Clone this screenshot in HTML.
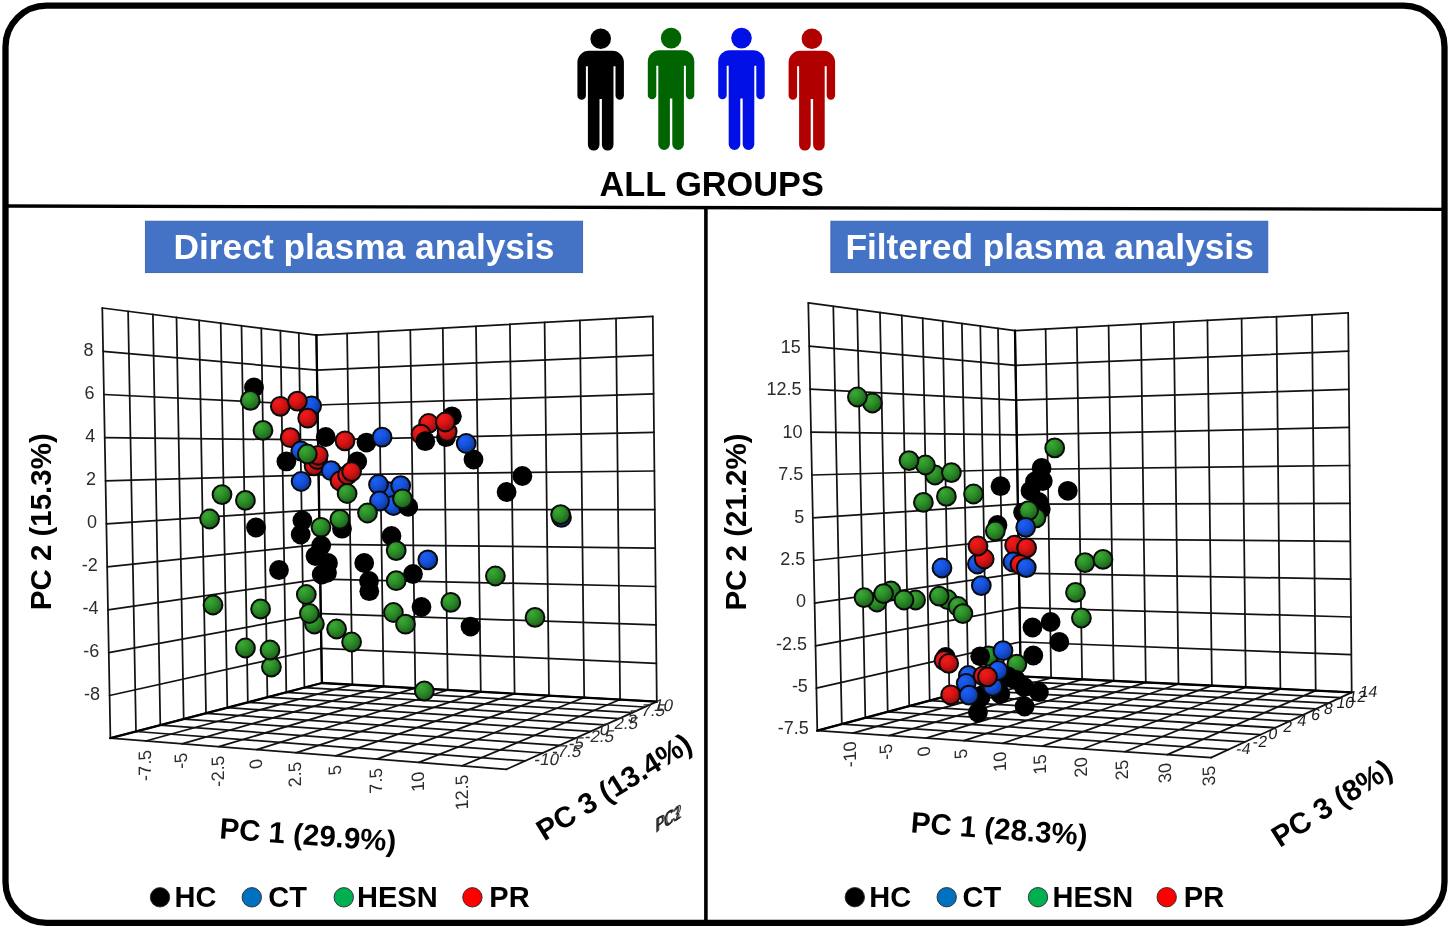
<!DOCTYPE html>
<html><head><meta charset="utf-8"><title>PCA plots</title>
<style>html,body{margin:0;padding:0;background:#fff}svg{display:block}text{font-family:"Liberation Sans", Arial, Helvetica, sans-serif}</style>
</head><body>
<svg width="1450" height="929" viewBox="0 0 1450 929">
<defs>
<radialGradient id="gR" cx="0.36" cy="0.32" r="0.75" fx="0.33" fy="0.28"><stop offset="0" stop-color="#f41a1a"/><stop offset="0.45" stop-color="#d81414"/><stop offset="1" stop-color="#8a0c0c"/></radialGradient>
<radialGradient id="gG" cx="0.36" cy="0.32" r="0.75" fx="0.33" fy="0.28"><stop offset="0" stop-color="#3aaa32"/><stop offset="0.45" stop-color="#2c8e28"/><stop offset="1" stop-color="#175a17"/></radialGradient>
<radialGradient id="gB" cx="0.36" cy="0.32" r="0.75" fx="0.33" fy="0.28"><stop offset="0" stop-color="#1c60f6"/><stop offset="0.45" stop-color="#1552dc"/><stop offset="1" stop-color="#0b3290"/></radialGradient>
</defs>
<rect width="1450" height="929" fill="#fff"/>
<circle cx="600.7" cy="38.7" r="10.3" fill="#000000"/>
<path d="M577.4 62.3A11.5 11.5 0 0 1 588.9 50.8H612.4A11.5 11.5 0 0 1 623.9 62.3V95.6A4.2 4.2 0 0 1 615.5 95.6V66.3H613.5V144.8A5.8 5.8 0 0 1 601.9 144.8V99H599.5V144.8A5.8 5.8 0 0 1 587.9 144.8V66.3H585.9V95.6A4.2 4.2 0 0 1 577.4 95.6Z" fill="#000000"/>
<circle cx="671.1" cy="38.1" r="10.3" fill="#006400"/>
<path d="M647.8 61.7A11.5 11.5 0 0 1 659.3 50.2H682.8A11.5 11.5 0 0 1 694.3 61.7V95A4.2 4.2 0 0 1 685.9 95V65.7H683.9V144.2A5.8 5.8 0 0 1 672.3 144.2V98.4H669.9V144.2A5.8 5.8 0 0 1 658.3 144.2V65.7H656.3V95A4.2 4.2 0 0 1 647.8 95Z" fill="#006400"/>
<circle cx="741.5" cy="38.1" r="10.3" fill="#0010e6"/>
<path d="M718.2 61.7A11.5 11.5 0 0 1 729.7 50.2H753.2A11.5 11.5 0 0 1 764.7 61.7V95A4.2 4.2 0 0 1 756.3 95V65.7H754.3V144.2A5.8 5.8 0 0 1 742.7 144.2V98.4H740.3V144.2A5.8 5.8 0 0 1 728.7 144.2V65.7H726.7V95A4.2 4.2 0 0 1 718.2 95Z" fill="#0010e6"/>
<circle cx="811.9" cy="38.7" r="10.3" fill="#b00000"/>
<path d="M788.6 62.3A11.5 11.5 0 0 1 800.1 50.8H823.6A11.5 11.5 0 0 1 835.1 62.3V95.6A4.2 4.2 0 0 1 826.7 95.6V66.3H824.7V144.8A5.8 5.8 0 0 1 813.1 144.8V99H810.7V144.8A5.8 5.8 0 0 1 799.1 144.8V66.3H797.1V95.6A4.2 4.2 0 0 1 788.6 95.6Z" fill="#b00000"/>
<text x="711.7" y="196.1" font-size="34.3" font-weight="700" text-anchor="middle" fill="#000">ALL GROUPS</text>
<rect x="145.4" y="221.2" width="437.2" height="51.4" fill="#4472c4" stroke="#3762ad" stroke-width="0.9"/>
<text x="364" y="258.5" font-size="35.35" font-weight="700" text-anchor="middle" fill="#fff">Direct plasma analysis</text>
<rect x="830.9" y="221.2" width="436.9" height="51.4" fill="#4472c4" stroke="#3762ad" stroke-width="0.9"/>
<text x="1049.6" y="258.5" font-size="35.35" font-weight="700" text-anchor="middle" fill="#fff">Filtered plasma analysis</text>
<g fill="none" stroke="#121212" stroke-width="1.75" stroke-linecap="round"><path d="M102.3 308L110.4 738.2"/><path d="M102.3 308L316.4 335.2"/><path d="M316.4 335.2L652.8 316.4"/><path d="M110.4 738.2L506.5 769.3"/><path d="M128.1 311.3L136 731.5"/><path d="M103.1 351.3L317 370.1"/><path d="M347.1 333.5L352.4 684.7"/><path d="M317 370.1L653.2 355.1"/><path d="M145.7 741L352.4 684.7"/><path d="M136 731.5L525.1 760.9"/><path d="M152.9 314.4L160.3 725.2"/><path d="M103.9 394.5L317.5 405"/><path d="M378.4 331.7L383.6 686.4"/><path d="M317.5 405L653.6 393.8"/><path d="M181.9 743.8L383.6 686.4"/><path d="M160.3 725.2L542.7 753"/><path d="M176.5 317.4L183.7 719.1"/><path d="M104.7 437.7L318.1 439.9"/><path d="M410.3 329.9L415.3 688.2"/><path d="M318.1 439.9L654 432.4"/><path d="M218.9 746.7L415.3 688.2"/><path d="M183.7 719.1L559.4 745.4"/><path d="M199.1 320.3L206 713.3"/><path d="M105.5 480.8L318.6 474.8"/><path d="M442.8 328.1L447.8 690"/><path d="M318.6 474.8L654.4 471"/><path d="M256.9 749.7L447.8 690"/><path d="M206 713.3L575.4 738.2"/><path d="M220.7 323L227.3 707.7"/><path d="M106.4 523.9L319.2 509.6"/><path d="M476 326.3L480.8 691.8"/><path d="M319.2 509.6L654.8 509.6"/><path d="M295.9 752.8L480.8 691.8"/><path d="M227.3 707.7L590.6 731.4"/><path d="M241.5 325.7L247.8 702.3"/><path d="M107.2 566.8L319.7 544.3"/><path d="M509.9 324.4L514.6 693.7"/><path d="M319.7 544.3L655.2 548.1"/><path d="M335.8 755.9L514.6 693.7"/><path d="M247.8 702.3L605 724.9"/><path d="M261.3 328.2L267.4 697.2"/><path d="M108 609.8L320.2 579.1"/><path d="M544.6 322.4L549 695.6"/><path d="M320.2 579.1L655.6 586.5"/><path d="M376.8 759.1L549 695.6"/><path d="M267.4 697.2L618.8 718.7"/><path d="M280.4 330.6L286.3 692.3"/><path d="M108.8 652.6L320.8 613.7"/><path d="M579.9 320.5L584.2 697.5"/><path d="M320.8 613.7L656 624.9"/><path d="M418.9 762.4L584.2 697.5"/><path d="M286.3 692.3L632.1 712.7"/><path d="M298.8 332.9L304.4 687.6"/><path d="M109.6 695.5L321.3 648.4"/><path d="M616 318.5L620.1 699.5"/><path d="M321.3 648.4L656.4 663.3"/><path d="M462.1 765.8L620.1 699.5"/><path d="M304.4 687.6L644.7 707"/><path d="M316.4 335.2L321.9 683"/><path d="M110.4 738.2L321.9 683"/><path d="M652.8 316.4L656.8 701.6"/><path d="M321.9 683L656.8 701.6"/><path d="M506.5 769.3L656.8 701.6"/></g>
<g fill="none" stroke="#000" stroke-width="2.3" stroke-linecap="round"><path d="M316.4 335.2L321.9 683"/><path d="M321.9 683L656.8 701.6"/><path d="M110.4 738.2L321.9 683"/></g>
<circle cx="254" cy="387.4" r="9.9" fill="#000"/>
<circle cx="250.3" cy="400.4" r="9.4" fill="url(#gG)" stroke="#0a0a0a" stroke-width="2.0"/>
<circle cx="280.3" cy="406.3" r="9.4" fill="url(#gR)" stroke="#0a0a0a" stroke-width="2.0"/>
<circle cx="311.6" cy="405.9" r="9.4" fill="url(#gB)" stroke="#0a0a0a" stroke-width="2.0"/>
<circle cx="297.4" cy="401.1" r="9.4" fill="url(#gR)" stroke="#0a0a0a" stroke-width="2.0"/>
<circle cx="307.7" cy="418.2" r="9.4" fill="url(#gR)" stroke="#0a0a0a" stroke-width="2.0"/>
<circle cx="263" cy="430.4" r="9.4" fill="url(#gG)" stroke="#0a0a0a" stroke-width="2.0"/>
<circle cx="290.3" cy="437.7" r="9.4" fill="url(#gR)" stroke="#0a0a0a" stroke-width="2.0"/>
<circle cx="325.7" cy="437" r="9.9" fill="#000"/>
<circle cx="366.5" cy="442.6" r="9.9" fill="#000"/>
<circle cx="345" cy="440.8" r="9.4" fill="url(#gR)" stroke="#0a0a0a" stroke-width="2.0"/>
<circle cx="382.1" cy="437.2" r="9.4" fill="url(#gB)" stroke="#0a0a0a" stroke-width="2.0"/>
<circle cx="300.8" cy="451" r="9.4" fill="url(#gB)" stroke="#0a0a0a" stroke-width="2.0"/>
<circle cx="314.1" cy="465.9" r="9.4" fill="url(#gR)" stroke="#0a0a0a" stroke-width="2.0"/>
<circle cx="317.6" cy="459.6" r="9.4" fill="url(#gR)" stroke="#0a0a0a" stroke-width="2.0"/>
<circle cx="318.3" cy="455.3" r="9.4" fill="url(#gR)" stroke="#0a0a0a" stroke-width="2.0"/>
<circle cx="307.3" cy="454" r="9.4" fill="url(#gG)" stroke="#0a0a0a" stroke-width="2.0"/>
<circle cx="286.4" cy="461.4" r="9.9" fill="#000"/>
<circle cx="357.2" cy="461.4" r="9.9" fill="#000"/>
<circle cx="331.1" cy="470.7" r="9.4" fill="url(#gB)" stroke="#0a0a0a" stroke-width="2.0"/>
<circle cx="340" cy="481" r="9.4" fill="url(#gR)" stroke="#0a0a0a" stroke-width="2.0"/>
<circle cx="347.6" cy="475" r="9.4" fill="url(#gR)" stroke="#0a0a0a" stroke-width="2.0"/>
<circle cx="351.6" cy="471.6" r="9.4" fill="url(#gR)" stroke="#0a0a0a" stroke-width="2.0"/>
<circle cx="301.1" cy="481.5" r="9.4" fill="url(#gB)" stroke="#0a0a0a" stroke-width="2.0"/>
<circle cx="347.1" cy="493.5" r="9.4" fill="url(#gG)" stroke="#0a0a0a" stroke-width="2.0"/>
<circle cx="388.6" cy="491.7" r="9.4" fill="url(#gB)" stroke="#0a0a0a" stroke-width="2.0"/>
<circle cx="378.5" cy="484.5" r="9.4" fill="url(#gB)" stroke="#0a0a0a" stroke-width="2.0"/>
<circle cx="400.7" cy="485.7" r="9.4" fill="url(#gB)" stroke="#0a0a0a" stroke-width="2.0"/>
<circle cx="393.5" cy="505.5" r="9.4" fill="url(#gB)" stroke="#0a0a0a" stroke-width="2.0"/>
<circle cx="408.2" cy="506.8" r="9.9" fill="#000"/>
<circle cx="379.5" cy="501" r="9.4" fill="url(#gB)" stroke="#0a0a0a" stroke-width="2.0"/>
<circle cx="402.5" cy="498.8" r="9.4" fill="url(#gG)" stroke="#0a0a0a" stroke-width="2.0"/>
<circle cx="367.5" cy="513" r="9.4" fill="url(#gG)" stroke="#0a0a0a" stroke-width="2.0"/>
<circle cx="222" cy="494.6" r="9.4" fill="url(#gG)" stroke="#0a0a0a" stroke-width="2.0"/>
<circle cx="245.4" cy="500.4" r="9.4" fill="url(#gG)" stroke="#0a0a0a" stroke-width="2.0"/>
<circle cx="209.6" cy="519" r="9.4" fill="url(#gG)" stroke="#0a0a0a" stroke-width="2.0"/>
<circle cx="256" cy="527.5" r="9.9" fill="#000"/>
<circle cx="302.4" cy="520.4" r="9.9" fill="#000"/>
<circle cx="300.7" cy="534.6" r="9.9" fill="#000"/>
<circle cx="321" cy="527.3" r="9.4" fill="url(#gG)" stroke="#0a0a0a" stroke-width="2.0"/>
<circle cx="342" cy="528.7" r="9.9" fill="#000"/>
<circle cx="339.8" cy="519.3" r="9.4" fill="url(#gG)" stroke="#0a0a0a" stroke-width="2.0"/>
<circle cx="321.2" cy="545.5" r="9.9" fill="#000"/>
<circle cx="315.5" cy="556.1" r="9.9" fill="#000"/>
<circle cx="328" cy="563" r="9.9" fill="#000"/>
<circle cx="321.7" cy="574.5" r="9.9" fill="#000"/>
<circle cx="327" cy="572.8" r="9.9" fill="#000"/>
<circle cx="391.5" cy="536" r="9.9" fill="#000"/>
<circle cx="396.2" cy="550.6" r="9.4" fill="url(#gG)" stroke="#0a0a0a" stroke-width="2.0"/>
<circle cx="427.8" cy="559.8" r="9.4" fill="url(#gB)" stroke="#0a0a0a" stroke-width="2.0"/>
<circle cx="451.9" cy="416.3" r="9.9" fill="#000"/>
<circle cx="446" cy="437.2" r="9.9" fill="#000"/>
<circle cx="428.6" cy="423.5" r="9.4" fill="url(#gR)" stroke="#0a0a0a" stroke-width="2.0"/>
<circle cx="447.2" cy="431.6" r="9.4" fill="url(#gR)" stroke="#0a0a0a" stroke-width="2.0"/>
<circle cx="445.3" cy="422" r="9.4" fill="url(#gR)" stroke="#0a0a0a" stroke-width="2.0"/>
<circle cx="421" cy="434.2" r="9.4" fill="url(#gR)" stroke="#0a0a0a" stroke-width="2.0"/>
<circle cx="425.3" cy="441.2" r="9.9" fill="#000"/>
<circle cx="473.5" cy="459.5" r="9.9" fill="#000"/>
<circle cx="466.2" cy="443.5" r="9.4" fill="url(#gB)" stroke="#0a0a0a" stroke-width="2.0"/>
<circle cx="522.4" cy="476" r="9.9" fill="#000"/>
<circle cx="506.6" cy="492" r="9.9" fill="#000"/>
<circle cx="561.5" cy="517.4" r="9.4" fill="url(#gB)" stroke="#0a0a0a" stroke-width="2.0"/>
<circle cx="560.6" cy="514.6" r="9.4" fill="url(#gG)" stroke="#0a0a0a" stroke-width="2.0"/>
<circle cx="279" cy="570" r="9.9" fill="#000"/>
<circle cx="364.2" cy="563" r="9.9" fill="#000"/>
<circle cx="369" cy="581" r="9.9" fill="#000"/>
<circle cx="369.3" cy="591.2" r="9.9" fill="#000"/>
<circle cx="413" cy="574" r="9.9" fill="#000"/>
<circle cx="396.2" cy="580.7" r="9.4" fill="url(#gG)" stroke="#0a0a0a" stroke-width="2.0"/>
<circle cx="306.3" cy="594.5" r="9.4" fill="url(#gG)" stroke="#0a0a0a" stroke-width="2.0"/>
<circle cx="314.4" cy="624" r="9.4" fill="url(#gG)" stroke="#0a0a0a" stroke-width="2.0"/>
<circle cx="309.4" cy="613.5" r="9.4" fill="url(#gG)" stroke="#0a0a0a" stroke-width="2.0"/>
<circle cx="336.6" cy="629" r="9.4" fill="url(#gG)" stroke="#0a0a0a" stroke-width="2.0"/>
<circle cx="351.6" cy="642" r="9.4" fill="url(#gG)" stroke="#0a0a0a" stroke-width="2.0"/>
<circle cx="213" cy="605" r="9.4" fill="url(#gG)" stroke="#0a0a0a" stroke-width="2.0"/>
<circle cx="260.6" cy="609" r="9.4" fill="url(#gG)" stroke="#0a0a0a" stroke-width="2.0"/>
<circle cx="245.4" cy="648" r="9.4" fill="url(#gG)" stroke="#0a0a0a" stroke-width="2.0"/>
<circle cx="271.4" cy="667" r="9.4" fill="url(#gG)" stroke="#0a0a0a" stroke-width="2.0"/>
<circle cx="270" cy="650" r="9.4" fill="url(#gG)" stroke="#0a0a0a" stroke-width="2.0"/>
<circle cx="393.4" cy="612.5" r="9.4" fill="url(#gG)" stroke="#0a0a0a" stroke-width="2.0"/>
<circle cx="405.5" cy="624.2" r="9.4" fill="url(#gG)" stroke="#0a0a0a" stroke-width="2.0"/>
<circle cx="421.5" cy="607" r="9.9" fill="#000"/>
<circle cx="450.8" cy="602.4" r="9.4" fill="url(#gG)" stroke="#0a0a0a" stroke-width="2.0"/>
<circle cx="470.5" cy="626.6" r="9.9" fill="#000"/>
<circle cx="424.3" cy="691" r="9.4" fill="url(#gG)" stroke="#0a0a0a" stroke-width="2.0"/>
<circle cx="495.4" cy="576" r="9.4" fill="url(#gG)" stroke="#0a0a0a" stroke-width="2.0"/>
<circle cx="535" cy="617.4" r="9.4" fill="url(#gG)" stroke="#0a0a0a" stroke-width="2.0"/>
<text x="93.6" y="355.5" font-size="18" text-anchor="end" fill="#2c2c2c">8</text>
<text x="94.4" y="398.7" font-size="18" text-anchor="end" fill="#2c2c2c">6</text>
<text x="95.2" y="441.9" font-size="18" text-anchor="end" fill="#2c2c2c">4</text>
<text x="96" y="485" font-size="18" text-anchor="end" fill="#2c2c2c">2</text>
<text x="96.9" y="528.1" font-size="18" text-anchor="end" fill="#2c2c2c">0</text>
<text x="97.7" y="571" font-size="18" text-anchor="end" fill="#2c2c2c">-2</text>
<text x="98.5" y="614" font-size="18" text-anchor="end" fill="#2c2c2c">-4</text>
<text x="99.3" y="656.8" font-size="18" text-anchor="end" fill="#2c2c2c">-6</text>
<text x="100.1" y="699.7" font-size="18" text-anchor="end" fill="#2c2c2c">-8</text>
<text transform="matrix(0 -1 1 -0.12 151.1 749.5)" font-size="18" text-anchor="end" fill="#2c2c2c">-7.5</text>
<text transform="matrix(0 -1 1 -0.12 187.3 752.3)" font-size="18" text-anchor="end" fill="#2c2c2c">-5</text>
<text transform="matrix(0 -1 1 -0.12 224.3 755.2)" font-size="18" text-anchor="end" fill="#2c2c2c">-2.5</text>
<text transform="matrix(0 -1 1 -0.12 262.3 758.2)" font-size="18" text-anchor="end" fill="#2c2c2c">0</text>
<text transform="matrix(0 -1 1 -0.12 301.3 761.3)" font-size="18" text-anchor="end" fill="#2c2c2c">2.5</text>
<text transform="matrix(0 -1 1 -0.12 341.2 764.4)" font-size="18" text-anchor="end" fill="#2c2c2c">5</text>
<text transform="matrix(0 -1 1 -0.12 382.2 767.6)" font-size="18" text-anchor="end" fill="#2c2c2c">7.5</text>
<text transform="matrix(0 -1 1 -0.12 424.3 770.9)" font-size="18" text-anchor="end" fill="#2c2c2c">10</text>
<text transform="matrix(0 -1 1 -0.12 467.5 774.3)" font-size="18" text-anchor="end" fill="#2c2c2c">12.5</text>
<text transform="translate(533.6 764.6) skewX(-11)" font-size="17" text-anchor="start" fill="#2c2c2c">-10</text>
<text transform="translate(551.2 756.7) skewX(-11)" font-size="17" text-anchor="start" fill="#2c2c2c">-7.5</text>
<text transform="translate(567.9 749.1) skewX(-11)" font-size="17" text-anchor="start" fill="#2c2c2c">-5</text>
<text transform="translate(583.9 741.9) skewX(-11)" font-size="17" text-anchor="start" fill="#2c2c2c">-2.5</text>
<text transform="translate(599.1 735.1) skewX(-11)" font-size="17" text-anchor="start" fill="#2c2c2c">0</text>
<text transform="translate(613.5 728.6) skewX(-11)" font-size="17" text-anchor="start" fill="#2c2c2c">2.5</text>
<text transform="translate(627.3 722.4) skewX(-11)" font-size="17" text-anchor="start" fill="#2c2c2c">5</text>
<text transform="translate(640.6 716.4) skewX(-11)" font-size="17" text-anchor="start" fill="#2c2c2c">7.5</text>
<text transform="translate(653.2 710.7) skewX(-11)" font-size="17" text-anchor="start" fill="#2c2c2c">10</text>
<text transform="translate(50.6 610.3) rotate(-90)" font-size="29.5" font-weight="700" fill="#000">PC 2 (15.3%)</text>
<text transform="translate(219 838.3) rotate(4.3)" font-size="29.5" font-weight="700" fill="#000">PC 1 (29.9%)</text>
<text transform="translate(544.2 841.5) rotate(-31.6)" font-size="29.3" font-weight="700" fill="#000">PC 3 (13.4%)</text>
<text transform="matrix(0.64 -0.38 0 1 655.8 832.6)" font-size="20" fill="#1e1e1e" fill-opacity="0.85">PC1</text>
<text transform="matrix(0.64 -0.38 0 1 657 831.7)" font-size="20" fill="#1e1e1e" fill-opacity="0.85">PC2</text>
<text transform="matrix(0.64 -0.38 0 1 655.2 833.2)" font-size="20" fill="#1e1e1e" fill-opacity="0.85">PC3</text>
<g fill="none" stroke="#121212" stroke-width="1.75" stroke-linecap="round"><path d="M808.3 302.9L817.3 730.7"/><path d="M808.3 302.9L1015 330.6"/><path d="M1015 330.6L1348.2 312.9"/><path d="M817.3 730.7L1211.1 757.6"/><path d="M833.3 306.3L841.8 724.1"/><path d="M809.2 346.1L1015.6 365.4"/><path d="M1045.6 329L1051.1 677.8"/><path d="M1015.6 365.4L1348.6 351.1"/><path d="M852.7 733.1L1051.1 677.8"/><path d="M841.8 724.1L1228.4 749.6"/><path d="M857.2 309.5L865.3 717.8"/><path d="M810.1 389.1L1016.2 400.2"/><path d="M1076.8 327.3L1082.1 679.3"/><path d="M1016.2 400.2L1348.9 389.3"/><path d="M889 735.6L1082.1 679.3"/><path d="M865.3 717.8L1244.9 741.9"/><path d="M880 312.5L887.7 711.8"/><path d="M811 432.1L1016.7 434.9"/><path d="M1108.6 325.6L1113.7 680.8"/><path d="M1016.7 434.9L1349.3 427.4"/><path d="M926.1 738.1L1113.7 680.8"/><path d="M887.7 711.8L1260.5 734.7"/><path d="M901.8 315.4L909.2 706.1"/><path d="M811.9 475L1017.3 469.5"/><path d="M1140.9 323.9L1145.8 682.4"/><path d="M1017.3 469.5L1349.6 465.5"/><path d="M964 740.7L1145.8 682.4"/><path d="M909.2 706.1L1275.4 727.7"/><path d="M922.7 318.2L929.7 700.6"/><path d="M812.8 517.8L1017.9 504.1"/><path d="M1173.8 322.2L1178.5 684"/><path d="M1017.9 504.1L1350 503.4"/><path d="M1002.8 743.3L1178.5 684"/><path d="M929.7 700.6L1289.6 721.2"/><path d="M942.7 320.9L949.4 695.4"/><path d="M813.7 560.5L1018.4 538.7"/><path d="M1207.4 320.4L1211.9 685.6"/><path d="M1018.4 538.7L1350.3 541.3"/><path d="M1042.5 746.1L1211.9 685.6"/><path d="M949.4 695.4L1303.2 714.9"/><path d="M961.9 323.5L968.3 690.3"/><path d="M814.6 603.2L1019 573.2"/><path d="M1241.6 318.6L1245.8 687.2"/><path d="M1019 573.2L1350.6 579.2"/><path d="M1083.2 748.8L1245.8 687.2"/><path d="M968.3 690.3L1316.1 708.9"/><path d="M980.3 326L986.5 685.5"/><path d="M815.5 645.8L1019.6 607.6"/><path d="M1276.5 316.7L1280.4 688.9"/><path d="M1019.6 607.6L1351 617"/><path d="M1124.8 751.7L1280.4 688.9"/><path d="M986.5 685.5L1328.5 703.1"/><path d="M998 328.3L1003.9 680.8"/><path d="M816.4 688.2L1020.1 642"/><path d="M1312 314.8L1315.7 690.6"/><path d="M1020.1 642L1351.3 654.7"/><path d="M1167.4 754.6L1315.7 690.6"/><path d="M1003.9 680.8L1340.3 697.6"/><path d="M1015 330.6L1020.7 676.3"/><path d="M817.3 730.7L1020.7 676.3"/><path d="M1348.2 312.9L1351.7 692.4"/><path d="M1020.7 676.3L1351.7 692.4"/><path d="M1211.1 757.6L1351.7 692.4"/></g>
<g fill="none" stroke="#000" stroke-width="2.3" stroke-linecap="round"><path d="M1015 330.6L1020.7 676.3"/><path d="M1020.7 676.3L1351.7 692.4"/><path d="M817.3 730.7L1020.7 676.3"/></g>
<circle cx="872.4" cy="403" r="9.4" fill="url(#gG)" stroke="#0a0a0a" stroke-width="2.0"/>
<circle cx="857.4" cy="397" r="9.4" fill="url(#gG)" stroke="#0a0a0a" stroke-width="2.0"/>
<circle cx="935" cy="475" r="9.4" fill="url(#gG)" stroke="#0a0a0a" stroke-width="2.0"/>
<circle cx="925.4" cy="465" r="9.4" fill="url(#gG)" stroke="#0a0a0a" stroke-width="2.0"/>
<circle cx="909" cy="460.6" r="9.4" fill="url(#gG)" stroke="#0a0a0a" stroke-width="2.0"/>
<circle cx="951.4" cy="472.6" r="9.4" fill="url(#gG)" stroke="#0a0a0a" stroke-width="2.0"/>
<circle cx="923.4" cy="502.4" r="9.4" fill="url(#gG)" stroke="#0a0a0a" stroke-width="2.0"/>
<circle cx="946.4" cy="496.4" r="9.4" fill="url(#gG)" stroke="#0a0a0a" stroke-width="2.0"/>
<circle cx="973.5" cy="494" r="9.4" fill="url(#gG)" stroke="#0a0a0a" stroke-width="2.0"/>
<circle cx="1000.5" cy="486.2" r="9.9" fill="#000"/>
<circle cx="1054.7" cy="447.9" r="9.4" fill="url(#gG)" stroke="#0a0a0a" stroke-width="2.0"/>
<circle cx="1041.6" cy="468" r="9.9" fill="#000"/>
<circle cx="1042.8" cy="481" r="9.9" fill="#000"/>
<circle cx="1035" cy="481.4" r="9.9" fill="#000"/>
<circle cx="1030.5" cy="490.8" r="9.9" fill="#000"/>
<circle cx="1067.8" cy="490.8" r="9.9" fill="#000"/>
<circle cx="1038.6" cy="502" r="9.9" fill="#000"/>
<circle cx="1040.8" cy="509" r="9.9" fill="#000"/>
<circle cx="1023.1" cy="512.4" r="9.9" fill="#000"/>
<circle cx="1036" cy="517.8" r="9.4" fill="url(#gG)" stroke="#0a0a0a" stroke-width="2.0"/>
<circle cx="1028.6" cy="510.6" r="9.4" fill="url(#gG)" stroke="#0a0a0a" stroke-width="2.0"/>
<circle cx="1025.7" cy="527.3" r="9.4" fill="url(#gB)" stroke="#0a0a0a" stroke-width="2.0"/>
<circle cx="997.5" cy="525" r="9.9" fill="#000"/>
<circle cx="995.3" cy="531" r="9.4" fill="url(#gG)" stroke="#0a0a0a" stroke-width="2.0"/>
<circle cx="977.4" cy="564" r="9.4" fill="url(#gB)" stroke="#0a0a0a" stroke-width="2.0"/>
<circle cx="984.2" cy="559" r="9.4" fill="url(#gR)" stroke="#0a0a0a" stroke-width="2.0"/>
<circle cx="978" cy="546" r="9.4" fill="url(#gR)" stroke="#0a0a0a" stroke-width="2.0"/>
<circle cx="1014.6" cy="545.2" r="9.4" fill="url(#gR)" stroke="#0a0a0a" stroke-width="2.0"/>
<circle cx="1026.6" cy="547.8" r="9.4" fill="url(#gR)" stroke="#0a0a0a" stroke-width="2.0"/>
<circle cx="1012.9" cy="562" r="9.4" fill="url(#gB)" stroke="#0a0a0a" stroke-width="2.0"/>
<circle cx="1020" cy="564.5" r="9.4" fill="url(#gR)" stroke="#0a0a0a" stroke-width="2.0"/>
<circle cx="1026.3" cy="567.6" r="9.4" fill="url(#gB)" stroke="#0a0a0a" stroke-width="2.0"/>
<circle cx="942" cy="568" r="9.4" fill="url(#gB)" stroke="#0a0a0a" stroke-width="2.0"/>
<circle cx="981.3" cy="585.6" r="9.4" fill="url(#gB)" stroke="#0a0a0a" stroke-width="2.0"/>
<circle cx="1085" cy="562.6" r="9.4" fill="url(#gG)" stroke="#0a0a0a" stroke-width="2.0"/>
<circle cx="1103" cy="559.4" r="9.4" fill="url(#gG)" stroke="#0a0a0a" stroke-width="2.0"/>
<circle cx="1075.5" cy="592.4" r="9.4" fill="url(#gG)" stroke="#0a0a0a" stroke-width="2.0"/>
<circle cx="1081.4" cy="618" r="9.4" fill="url(#gG)" stroke="#0a0a0a" stroke-width="2.0"/>
<circle cx="877" cy="602" r="9.4" fill="url(#gG)" stroke="#0a0a0a" stroke-width="2.0"/>
<circle cx="864" cy="597.6" r="9.4" fill="url(#gG)" stroke="#0a0a0a" stroke-width="2.0"/>
<circle cx="891" cy="591" r="9.4" fill="url(#gG)" stroke="#0a0a0a" stroke-width="2.0"/>
<circle cx="883.6" cy="593.6" r="9.4" fill="url(#gG)" stroke="#0a0a0a" stroke-width="2.0"/>
<circle cx="915.6" cy="600" r="9.4" fill="url(#gG)" stroke="#0a0a0a" stroke-width="2.0"/>
<circle cx="904" cy="600" r="9.4" fill="url(#gG)" stroke="#0a0a0a" stroke-width="2.0"/>
<circle cx="947.4" cy="599.5" r="9.4" fill="url(#gG)" stroke="#0a0a0a" stroke-width="2.0"/>
<circle cx="939.2" cy="596.2" r="9.4" fill="url(#gG)" stroke="#0a0a0a" stroke-width="2.0"/>
<circle cx="958" cy="606.5" r="9.4" fill="url(#gG)" stroke="#0a0a0a" stroke-width="2.0"/>
<circle cx="962.9" cy="613.6" r="9.4" fill="url(#gG)" stroke="#0a0a0a" stroke-width="2.0"/>
<circle cx="1032.5" cy="627.5" r="9.9" fill="#000"/>
<circle cx="1050.6" cy="622" r="9.9" fill="#000"/>
<circle cx="1059.3" cy="642" r="9.9" fill="#000"/>
<circle cx="1033.3" cy="655.5" r="9.9" fill="#000"/>
<circle cx="945.7" cy="657" r="9.9" fill="#000"/>
<circle cx="944" cy="660.4" r="9.4" fill="url(#gR)" stroke="#0a0a0a" stroke-width="2.0"/>
<circle cx="948.7" cy="663.4" r="9.4" fill="url(#gR)" stroke="#0a0a0a" stroke-width="2.0"/>
<circle cx="988.5" cy="656" r="9.4" fill="url(#gG)" stroke="#0a0a0a" stroke-width="2.0"/>
<circle cx="980.2" cy="656.3" r="9.9" fill="#000"/>
<circle cx="1003" cy="650.7" r="9.4" fill="url(#gB)" stroke="#0a0a0a" stroke-width="2.0"/>
<circle cx="1016.8" cy="664.2" r="9.4" fill="url(#gG)" stroke="#0a0a0a" stroke-width="2.0"/>
<circle cx="977.9" cy="712.5" r="9.9" fill="#000"/>
<circle cx="980.5" cy="697.5" r="9.9" fill="#000"/>
<circle cx="1000.3" cy="694" r="9.9" fill="#000"/>
<circle cx="1016" cy="680" r="9.9" fill="#000"/>
<circle cx="1008" cy="676.5" r="9.9" fill="#000"/>
<circle cx="1024" cy="687" r="9.9" fill="#000"/>
<circle cx="1038.9" cy="692" r="9.9" fill="#000"/>
<circle cx="1024.6" cy="706.5" r="9.9" fill="#000"/>
<circle cx="968.4" cy="675.5" r="9.4" fill="url(#gB)" stroke="#0a0a0a" stroke-width="2.0"/>
<circle cx="966.2" cy="683.5" r="9.4" fill="url(#gB)" stroke="#0a0a0a" stroke-width="2.0"/>
<circle cx="950.7" cy="694.8" r="9.4" fill="url(#gR)" stroke="#0a0a0a" stroke-width="2.0"/>
<circle cx="969" cy="695.1" r="9.4" fill="url(#gB)" stroke="#0a0a0a" stroke-width="2.0"/>
<circle cx="983.2" cy="675.8" r="9.4" fill="url(#gR)" stroke="#0a0a0a" stroke-width="2.0"/>
<circle cx="992.8" cy="686.4" r="9.4" fill="url(#gB)" stroke="#0a0a0a" stroke-width="2.0"/>
<circle cx="998" cy="670.5" r="9.4" fill="url(#gB)" stroke="#0a0a0a" stroke-width="2.0"/>
<circle cx="987.5" cy="676.9" r="9.4" fill="url(#gR)" stroke="#0a0a0a" stroke-width="2.0"/>
<text x="800.7" y="352.6" font-size="18" text-anchor="end" fill="#2c2c2c">15</text>
<text x="801.6" y="395.2" font-size="18" text-anchor="end" fill="#2c2c2c">12.5</text>
<text x="802.5" y="437.8" font-size="18" text-anchor="end" fill="#2c2c2c">10</text>
<text x="803.4" y="480.3" font-size="18" text-anchor="end" fill="#2c2c2c">7.5</text>
<text x="804.3" y="522.7" font-size="18" text-anchor="end" fill="#2c2c2c">5</text>
<text x="805.2" y="565" font-size="18" text-anchor="end" fill="#2c2c2c">2.5</text>
<text x="806.1" y="607.3" font-size="18" text-anchor="end" fill="#2c2c2c">0</text>
<text x="807" y="649.5" font-size="18" text-anchor="end" fill="#2c2c2c">-2.5</text>
<text x="807.9" y="691.5" font-size="18" text-anchor="end" fill="#2c2c2c">-5</text>
<text x="808.8" y="733.6" font-size="18" text-anchor="end" fill="#2c2c2c">-7.5</text>
<text transform="matrix(0 -1 1 -0.12 856.1 740.7)" font-size="18" text-anchor="end" fill="#2c2c2c">-10</text>
<text transform="matrix(0 -1 1 -0.12 892.4 743.2)" font-size="18" text-anchor="end" fill="#2c2c2c">-5</text>
<text transform="matrix(0 -1 1 -0.12 929.5 745.7)" font-size="18" text-anchor="end" fill="#2c2c2c">0</text>
<text transform="matrix(0 -1 1 -0.12 967.4 748.3)" font-size="18" text-anchor="end" fill="#2c2c2c">5</text>
<text transform="matrix(0 -1 1 -0.12 1006.2 750.9)" font-size="18" text-anchor="end" fill="#2c2c2c">10</text>
<text transform="matrix(0 -1 1 -0.12 1045.9 753.7)" font-size="18" text-anchor="end" fill="#2c2c2c">15</text>
<text transform="matrix(0 -1 1 -0.12 1086.6 756.4)" font-size="18" text-anchor="end" fill="#2c2c2c">20</text>
<text transform="matrix(0 -1 1 -0.12 1128.2 759.3)" font-size="18" text-anchor="end" fill="#2c2c2c">25</text>
<text transform="matrix(0 -1 1 -0.12 1170.8 762.2)" font-size="18" text-anchor="end" fill="#2c2c2c">30</text>
<text transform="matrix(0 -1 1 -0.12 1214.5 765.2)" font-size="18" text-anchor="end" fill="#2c2c2c">35</text>
<text transform="translate(1235.6 754.3) skewX(-9)" font-size="16" text-anchor="start" fill="#1c1c1c">-4</text>
<text transform="translate(1252.1 746.6) skewX(-9)" font-size="16" text-anchor="start" fill="#1c1c1c">-2</text>
<text transform="translate(1267.7 739.4) skewX(-9)" font-size="16" text-anchor="start" fill="#1c1c1c">0</text>
<text transform="translate(1282.6 732.4) skewX(-9)" font-size="16" text-anchor="start" fill="#1c1c1c">2</text>
<text transform="translate(1296.8 725.9) skewX(-9)" font-size="16" text-anchor="start" fill="#1c1c1c">4</text>
<text transform="translate(1310.4 719.6) skewX(-9)" font-size="16" text-anchor="start" fill="#1c1c1c">6</text>
<text transform="translate(1323.3 713.6) skewX(-9)" font-size="16" text-anchor="start" fill="#1c1c1c">8</text>
<text transform="translate(1335.7 707.8) skewX(-9)" font-size="16" text-anchor="start" fill="#1c1c1c">10</text>
<text transform="translate(1347.5 702.3) skewX(-9)" font-size="16" text-anchor="start" fill="#1c1c1c">12</text>
<text transform="translate(1358.9 697.1) skewX(-9)" font-size="16" text-anchor="start" fill="#1c1c1c">14</text>
<text transform="translate(745.5 610.6) rotate(-90)" font-size="29.5" font-weight="700" fill="#000">PC 2 (21.2%)</text>
<text transform="translate(910.2 832.3) rotate(4.3)" font-size="29.5" font-weight="700" fill="#000">PC 1 (28.3%)</text>
<text transform="translate(1279.7 848) rotate(-32.5)" font-size="29.5" font-weight="700" fill="#000">PC 3 (8%)</text>
<circle cx="160" cy="897.3" r="9.7" fill="#000" stroke="#2a2a2a" stroke-width="0.9"/>
<text x="174.6" y="906.9" font-size="29" font-weight="700" fill="#000">HC</text>
<circle cx="251.8" cy="897.3" r="9.7" fill="#0070c0" stroke="#2a2a2a" stroke-width="0.9"/>
<text x="268.2" y="906.9" font-size="29" font-weight="700" fill="#000">CT</text>
<circle cx="343.8" cy="897.3" r="9.7" fill="#00b050" stroke="#2a2a2a" stroke-width="0.9"/>
<text x="357" y="906.9" font-size="29" font-weight="700" fill="#000">HESN</text>
<circle cx="472.4" cy="897.3" r="9.7" fill="#ff0000" stroke="#2a2a2a" stroke-width="0.9"/>
<text x="489.3" y="906.9" font-size="29" font-weight="700" fill="#000">PR</text>
<circle cx="854.8" cy="897.2" r="9.7" fill="#000" stroke="#2a2a2a" stroke-width="0.9"/>
<text x="869.3" y="906.9" font-size="29" font-weight="700" fill="#000">HC</text>
<circle cx="946.7" cy="897.2" r="9.7" fill="#0070c0" stroke="#2a2a2a" stroke-width="0.9"/>
<text x="962.5" y="906.9" font-size="29" font-weight="700" fill="#000">CT</text>
<circle cx="1038" cy="897.2" r="9.7" fill="#00b050" stroke="#2a2a2a" stroke-width="0.9"/>
<text x="1052.5" y="906.9" font-size="29" font-weight="700" fill="#000">HESN</text>
<circle cx="1166.7" cy="897.2" r="9.7" fill="#ff0000" stroke="#2a2a2a" stroke-width="0.9"/>
<text x="1183.8" y="906.9" font-size="29" font-weight="700" fill="#000">PR</text>
<path d="M5.5 206L1444.5 209.3" stroke="#000" stroke-width="3.3" fill="none"/>
<path d="M705.9 207.5V923" stroke="#000" stroke-width="3.6" fill="none"/>
<rect x="5.5" y="5.7" width="1439" height="917.2" rx="41" ry="41" fill="none" stroke="#000" stroke-width="6.3"/>
</svg></body></html>
